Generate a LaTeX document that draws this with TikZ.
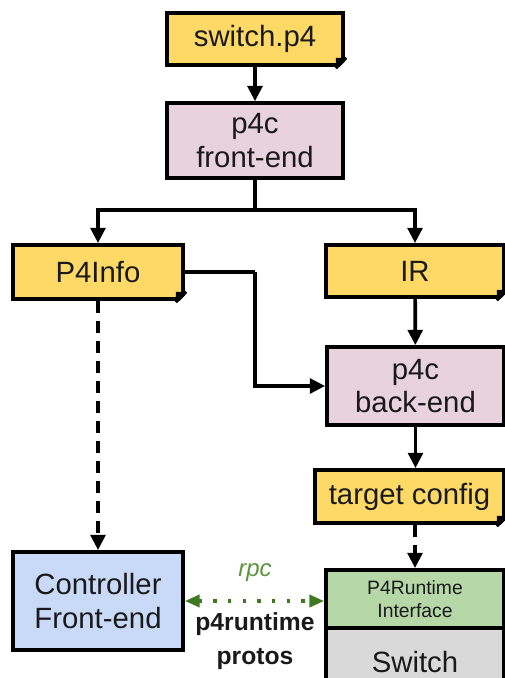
\documentclass[tikz,border=0pt]{standalone}
\usepackage{fontspec}
\setmainfont{Liberation Sans}
\usetikzlibrary{arrows.meta,calc}

\definecolor{fileyellow}{HTML}{FFD966}
\definecolor{compilerpink}{HTML}{E8D2DE}
\definecolor{ctlblue}{HTML}{C9DAF8}
\definecolor{rtgreen}{HTML}{B6D7A8}
\definecolor{swgray}{HTML}{D9D9D9}
\definecolor{rpcgreen}{HTML}{3E7A22}
\definecolor{rpctext}{HTML}{5E9440}
\definecolor{inkcol}{HTML}{1A1A1A}

\tikzset{
  box/.style={draw=black, line width=2.8pt, inner sep=0pt, text=inkcol,
    font=\fontsize{22}{25}\selectfont, align=center},
  filebox/.style={box, fill=fileyellow},
  pinkbox/.style={box, fill=compilerpink},
  wire/.style={line width=2.8pt, draw=black},
  arr/.style={wire, -{Triangle[width=11pt,length=11.5pt]}},
  dasharr/.style={arr, dash pattern=on 9pt off 6pt},
  rpcarr/.style={line width=2.6pt, draw=rpcgreen,
    dash pattern=on 2.4pt off 8.6pt,
    {Triangle[width=9pt,length=11pt]}-{Triangle[width=9pt,length=11pt]}}
}

% folded bottom-right corner of a file node
\newcommand\foldcorner[1]{%
  \fill[white] ($(#1.south east)+(-8,3)$) -- ($(#1.south east)+(3,3)$)
     -- ($(#1.south east)+(3,-8)$) -- cycle;
  \fill[black] ($(#1.south east)+(-9,1.4)$) -- ($(#1.south east)+(1.4,-9)$)
     -- ($(#1.south east)+(-9,-9)$) -- cycle;
  \draw[line width=2pt, line join=round] ($(#1.south east)+(-9,1.4)$) -- ($(#1.south east)+(1.4,-9)$);
}

\begin{document}
\begin{tikzpicture}[x=0.75pt,y=-0.75pt]
\useasboundingbox (0,0) rectangle (504,678);

% compiler chain
\node[filebox, minimum width=132pt, minimum height=39pt] (sw) at (255,39) {switch.p4};
\node[pinkbox, minimum width=132pt, minimum height=56pt] (fe) at (255,140.5) {p4c\\front-end};
\node[filebox, minimum width=127.5pt, minimum height=40.5pt] (info) at (98,272) {P4Info};
\node[filebox, minimum width=133.5pt, minimum height=39pt] (ir) at (415,271) {IR};
\node[pinkbox, minimum width=132.75pt, minimum height=58.5pt] (be) at (415.5,386) {p4c\\back-end};
\node[filebox, minimum width=141.75pt, minimum height=39.75pt] (tc) at (409.5,496.5) {target config};

% runtime side
\node[box, fill=ctlblue, minimum width=127.5pt, minimum height=73.5pt] (ctl) at (98,601) {Controller\\Front-end};
\node[box, fill=swgray, minimum width=133.5pt, minimum height=54pt] (swb) at (415,662) {Switch};
\node[box, fill=rtgreen, minimum width=133.5pt, minimum height=43.5pt,
      font=\fontsize{14.5}{17}\selectfont] (rt) at (415,599) {P4Runtime\\Interface};

\foreach \f in {sw,info,ir,tc} {\foldcorner{\f}}

% routing points
\coordinate (split) at (255,210);
\coordinate (bend) at (255,272);

% connectors
\draw[arr] (sw) -- (fe);
\draw[wire] (fe.south) -- (split);
\draw[arr] (split) -| (info.north);
\draw[arr] (split) -| (ir.north);
\draw[wire] (info.east) -- (bend);
\draw[arr] (bend) |- (be.west);
\draw[arr] (ir) -- (be);
\draw[arr] (be.south) -- (be.south |- tc.north);
\draw[dasharr] (tc.south -| rt.north) -- (rt.north);
\draw[dasharr] (info) -- (ctl);
\draw[rpcarr] (ctl.east) -- (ctl.east -| rt.west);

% labels of the rpc link
\node[text=rpctext, font=\fontsize{18}{20}\selectfont\itshape] (rpc) at (255,573) {rpc};
\node[text=inkcol, font=\fontsize{18.5}{25.5}\selectfont\bfseries, align=center] (protos) at (255,641) {p4runtime\\protos};
\end{tikzpicture}
\end{document}
